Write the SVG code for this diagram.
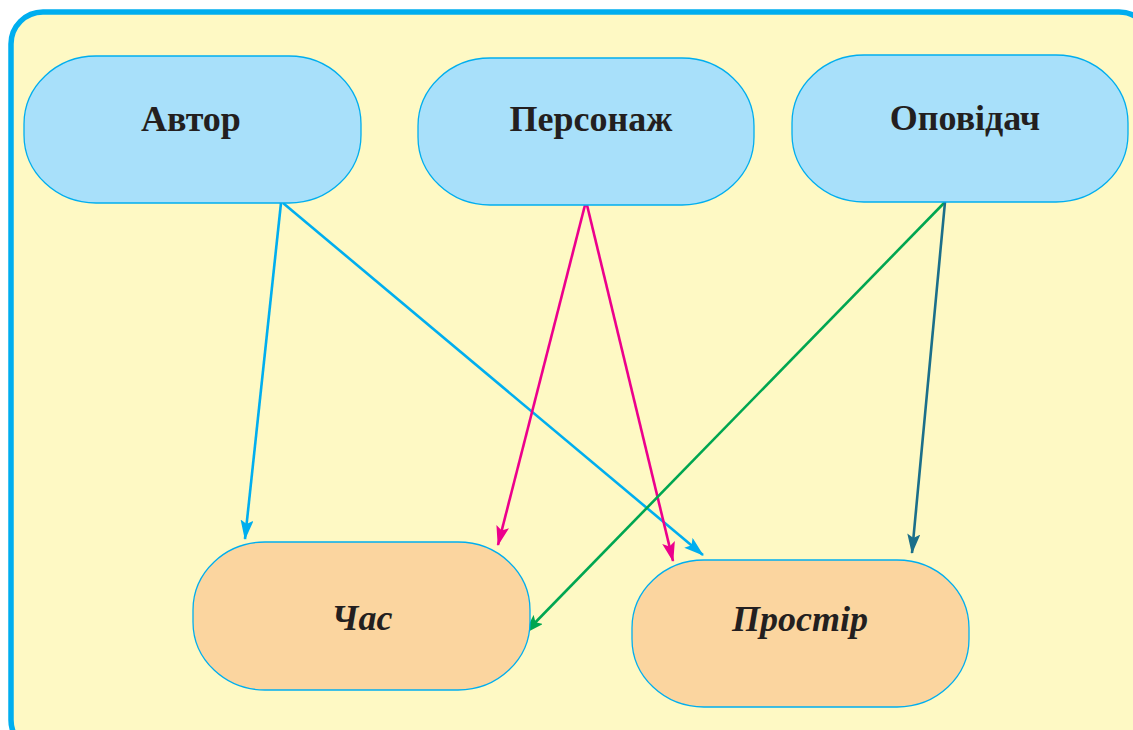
<svg xmlns="http://www.w3.org/2000/svg" width="1133" height="730" viewBox="0 0 1133 730">
<style>
.top{fill:#A8E0FA;stroke:#00AEEF;stroke-width:1.3}
.bot{fill:#FBD59F;stroke:#00AEEF;stroke-width:1.3}
.lbl{font-family:"Liberation Serif","Times New Roman",serif;font-weight:bold;font-size:36px;fill:#231F20;text-anchor:middle}
.it{font-style:italic}
.c{fill:none;stroke-width:2.6}
</style>
<defs>
<marker id="mb" viewBox="0 0 20 13" refX="19" refY="6.5" markerWidth="20" markerHeight="13" markerUnits="userSpaceOnUse" orient="auto"><path d="M0,0 L20,6.5 L0,13 L4,6.5 Z" fill="#00AEEF"/></marker>
<marker id="mm" viewBox="0 0 20 13" refX="19" refY="6.5" markerWidth="20" markerHeight="13" markerUnits="userSpaceOnUse" orient="auto"><path d="M0,0 L20,6.5 L0,13 L4,6.5 Z" fill="#EC008C"/></marker>
<marker id="mg" viewBox="0 0 20 13" refX="19" refY="6.5" markerWidth="20" markerHeight="13" markerUnits="userSpaceOnUse" orient="auto"><path d="M0,0 L20,6.5 L0,13 L4,6.5 Z" fill="#00A651"/></marker>
<marker id="mt" viewBox="0 0 20 13" refX="19" refY="6.5" markerWidth="20" markerHeight="13" markerUnits="userSpaceOnUse" orient="auto"><path d="M0,0 L20,6.5 L0,13 L4,6.5 Z" fill="#1B6F8A"/></marker>
</defs>
<rect x="0" y="0" width="1133" height="730" fill="#FFFFFF"/>
<rect id="frame" x="11" y="12" width="1140" height="740" rx="32" ry="32" fill="#FEF9C4" stroke="#00AEEF" stroke-width="5.5"/>
<g id="connectors">
<line class="c" x1="281" y1="203" x2="245" y2="539" stroke="#00AEEF" marker-end="url(#mb)"/>
<line class="c" x1="283" y1="203" x2="703" y2="555" stroke="#00AEEF" marker-end="url(#mb)"/>
<line class="c" x1="585" y1="205" x2="498" y2="545" stroke="#EC008C" marker-end="url(#mm)"/>
<line class="c" x1="587" y1="205" x2="673" y2="561" stroke="#EC008C" marker-end="url(#mm)"/>
<line class="c" x1="945" y1="202" x2="525" y2="633" stroke="#00A651" marker-end="url(#mg)"/>
<line class="c" x1="945" y1="202" x2="912" y2="553" stroke="#1B6F8A" marker-end="url(#mt)"/>
</g>
<g id="avtor"><rect class="top" x="24" y="56" width="337" height="147" rx="72" ry="68"/><text class="lbl" x="191" y="131">Автор</text></g>
<g id="personazh"><rect class="top" x="418" y="58" width="336" height="147" rx="72" ry="68"/><text class="lbl" x="591" y="131">Персонаж</text></g>
<g id="opovidach"><rect class="top" x="792" y="55" width="336" height="147" rx="72" ry="68"/><text class="lbl" x="965" y="130">Оповідач</text></g>
<g id="chas"><rect class="bot" x="193" y="542" width="337" height="148" rx="72" ry="68"/><text class="lbl it" x="362" y="630">Час</text></g>
<g id="prostir"><rect class="bot" x="632" y="560" width="337" height="147" rx="72" ry="68"/><text class="lbl it" x="800" y="631">Простір</text></g>
</svg>
